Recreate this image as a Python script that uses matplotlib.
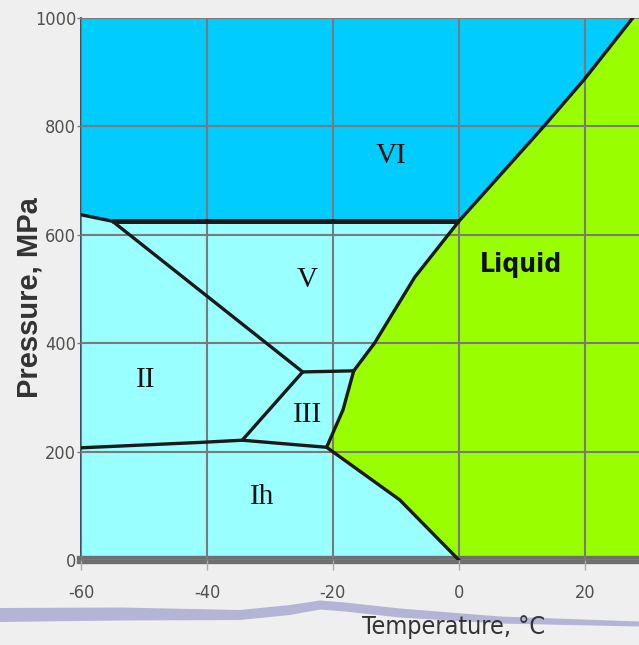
import matplotlib
matplotlib.use('Agg')
import matplotlib.pyplot as plt
import numpy as np
from matplotlib.patches import Polygon

plt.rcParams['axes.unicode_minus'] = False

# phase boundaries of water ice (T in degC, P in MPa)
ih_ii_T = [-60, -41, -34.4, -25.2, -21]
ih_ii_P = [207, 217, 221, 212, 208]
ii_iii_T = [-34.4, -24.8]
ii_iii_P = [221, 347]
iii_v_T = [-24.8, -16.7]
iii_v_P = [347, 349]
ii_v_T = [-55, -24.8]
ii_v_P = [625, 347]
ii_vi_T = [-60, -55]
ii_vi_P = [637, 625]
v_vi_T = [-55, 0]
v_vi_P = [625, 625]
ih_l_T = [-21, -9.4, 0]
ih_l_P = [208, 111, 0]
iii_l_T = [-21, -18.4, -16.7]
iii_l_P = [208, 277, 349]
v_l_T = [-16.7, -13.4, -7.0, 0]
v_l_P = [349, 400, 522, 625]
vi_l_T = [0, 13.4, 20, 27.6]
vi_l_P = [625, 799, 888, 1000]

phases = ['VI', 'V', 'II', 'III', 'Ih']
xticks = [-60, -40, -20, 0, 20]
yticks = [0, 200, 400, 600, 800, 1000]

xmin, xmax = -60, 28.6
ymin, ymax = 0, 1000

fig = plt.figure(figsize=(6.39, 6.45), dpi=100, facecolor='#efefef')
ax = fig.add_axes([81 / 639, 85 / 645, 558 / 639, 542 / 645])
ax.set_facecolor('#99ffff')

# lavender wavy band behind the x labels (decoration)
bx = np.array([0, 120, 240, 290, 320, 345, 400, 500, 639])
by = np.array([615, 614, 615, 610, 605, 607, 613, 620, 624])
bh = np.array([7, 6.5, 5, 5, 4.5, 4.5, 4.5, 3.5, 2.5])
band = np.r_[np.c_[bx, by - bh], np.c_[bx[::-1], (by + bh)[::-1]]]
band = np.c_[band[:, 0] / 639, 1 - band[:, 1] / 645]
fig.patches.append(Polygon(band, closed=True, transform=fig.transFigure,
                           facecolor='#b4b4d6', edgecolor='none', zorder=0))

# ice VI region
vi_x = np.r_[xmin, ii_vi_T, v_vi_T[1:], vi_l_T[1:], vi_l_T[-1]]
vi_y = np.r_[ymax, ii_vi_P, v_vi_P[1:], vi_l_P[1:], ymax]
ax.fill(vi_x, vi_y, color='#00ccff', lw=0, zorder=1)

# liquid region
liq_x = np.r_[xmax, ih_l_T[::-1], iii_l_T[1:], v_l_T[1:], vi_l_T[1:], xmax]
liq_y = np.r_[ymin, ih_l_P[::-1], iii_l_P[1:], v_l_P[1:], vi_l_P[1:], ymax]
ax.fill(liq_x, liq_y, color='#99ff00', lw=0, zorder=1)

# boundary lines
lines = [(ih_ii_T, ih_ii_P), (ii_iii_T, ii_iii_P), (iii_v_T, iii_v_P),
         (ii_v_T, ii_v_P), (ii_vi_T, ii_vi_P), (ih_l_T, ih_l_P),
         (iii_l_T, iii_l_P), (v_l_T, v_l_P), (vi_l_T, vi_l_P)]
for t, p in lines:
    ax.plot(t, p, color='#1a1a1a', lw=2.4, solid_capstyle='round', zorder=3)
ax.plot(v_vi_T, v_vi_P, color='#1a1a1a', lw=3.6, solid_capstyle='butt', zorder=3)

# region labels
serif = dict(fontsize=21, family='Liberation Serif', ha='center', va='center', color='#111111', zorder=4)
ax.text(-10.8, 745, phases[0], **serif)
ax.text(-24.1, 517, phases[1], **serif)
ax.text(-49.7, 332, phases[2], **serif)
ax.text(-24.0, 268, phases[3], **serif)
ax.text(-31.3, 116, phases[4], **serif)
ax.text(9.8, 544, 'Liquid', fontsize=19, family='DejaVu Sans', stretch='condensed',
        weight='bold', ha='center', va='center', color='#111111', zorder=4)

ax.set_xlim(xmin, xmax)
ax.set_ylim(ymin, ymax)
ax.set_xticks(xticks)
ax.set_yticks(yticks)
ax.set_axisbelow(False)
ax.grid(True, color='#7a7a7a', lw=1.5)

for lab in ax.get_xticklabels() + ax.get_yticklabels():
    lab.set_family('DejaVu Sans')
    lab.set_stretch('condensed')
    lab.set_fontsize(13)
    lab.set_color('#505050')
ax.tick_params(axis='x', length=7, width=1, color='#aaaaaa', pad=10)
ax.tick_params(axis='y', length=3, width=1, color='#777777', pad=0.5)

ax.spines['top'].set_visible(False)
ax.spines['right'].set_visible(False)
ax.spines['bottom'].set_color('#6e6e6e')
ax.spines['bottom'].set_linewidth(6)
ax.spines['left'].set_color('#203040')
ax.spines['left'].set_linewidth(1.2)

fig.text(30 / 639, 1 - 298 / 645, 'Pressure, MPa', rotation=90, fontsize=21,
         family=['Liberation Sans', 'DejaVu Sans'], weight='bold', color='#333333',
         ha='center', va='center')
fig.text(454 / 639, 1 - 627 / 645, 'Temperature, \u00b0C', fontsize=18, family='DejaVu Sans',
         stretch='condensed', color='#333333', ha='center', va='center')

fig.savefig('out.png', dpi=100, facecolor=fig.get_facecolor())
